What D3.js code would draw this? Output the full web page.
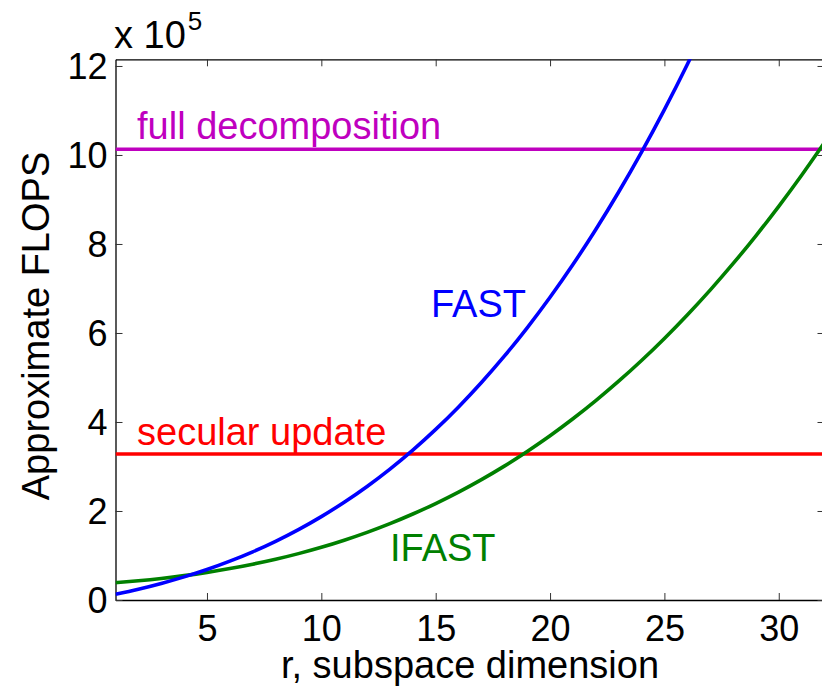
<!DOCTYPE html>
<html><head><meta charset="utf-8">
<script src="https://cdn.jsdelivr.net/npm/d3@7"></script>
<style>
html,body{margin:0;padding:0;background:#fff;overflow:hidden}
text{font-family:"Liberation Sans",Arial,Helvetica,sans-serif}
</style></head>
<body><svg id="chart" width="822" height="687"></svg>
<script>
// ---- data (values in units of 1e5 FLOPS) ----
const rValues = [1,2,3,4,5,6,7,8,9,10,11,12,13,14,15,16,17,18,19,20,21,22,23,24,25,26,27,28,29,30,31,32];
const fastValues = [0.128,0.242,0.372,0.519,0.685,0.873,1.083,1.319,1.582,1.874,2.197,2.552,2.942,3.368,3.833,4.339,4.887,5.478,6.116,6.802,7.538,8.326,9.168,10.065,11.020,12.034,13.110,null,null,null,null,null];
const ifastValues = [0.390,0.433,0.485,0.547,0.620,0.706,0.804,0.915,1.042,1.184,1.344,1.520,1.716,1.932,2.168,2.425,2.705,3.009,3.338,3.691,4.072,4.480,4.916,5.381,5.877,6.405,6.964,7.557,8.184,8.846,9.545,10.280];
const fullDecomposition = 10.13;
const secularUpdate = 3.28;
const xTicks = [5,10,15,20,25,30];
const yTicks = [0,2,4,6,8,10,12];
const xDomain = [1,32];
const yDomain = [0,12.15];

const svg = d3.select("#chart");
const L = 115.5, T = 59.3, B = 600, R = 824.5;
const x = d3.scaleLinear().domain(xDomain).range([L, R]);
const y = d3.scaleLinear().domain(yDomain).range([B, T]);

svg.append("defs").append("clipPath").attr("id","clip")
  .append("rect").attr("x",L).attr("y",T).attr("width",R-L).attr("height",B-T);

const fs = 36, fsLab = 38;
// axes with inward ticks
const tickLen = 7;
const gB = svg.append("g").attr("transform",`translate(0,${B})`)
  .call(d3.axisBottom(x).tickValues(xTicks).tickSizeInner(-tickLen).tickSizeOuter(0).tickPadding(17));
const gT = svg.append("g").attr("transform",`translate(0,${T})`)
  .call(d3.axisTop(x).tickValues(xTicks).tickSizeInner(-tickLen).tickSizeOuter(0).tickFormat(""));
const gL = svg.append("g").attr("transform",`translate(${L},0)`)
  .call(d3.axisLeft(y).tickValues(yTicks).tickSizeInner(-tickLen).tickSizeOuter(0).tickPadding(8));
const gR = svg.append("g").attr("transform",`translate(${R},0)`)
  .call(d3.axisRight(y).tickValues(yTicks).tickSizeInner(-tickLen).tickSizeOuter(0).tickFormat(""));
[gB,gT,gL,gR].forEach(g=>{
  g.select(".domain").attr("stroke","#000").attr("stroke-width",1.3);
  g.selectAll(".tick line").attr("stroke","#333").attr("stroke-width",1);
  g.selectAll(".tick text").attr("font-size",fs).attr("fill","#000")
   .style("font-family",'"Liberation Sans",Arial,sans-serif');
});
gB.selectAll(".tick text").attr("dy","0.66em");
gL.selectAll(".tick text").attr("dy","0.36em");

const plot = svg.append("g").attr("clip-path","url(#clip)");
const line = d3.line().defined(d=>d[1]!==null).x(d=>x(d[0])).y(d=>y(d[1])).curve(d3.curveMonotoneX);

// horizontal reference lines
plot.append("line").attr("x1",x(xDomain[0])).attr("x2",x(xDomain[1]))
  .attr("y1",y(fullDecomposition)).attr("y2",y(fullDecomposition))
  .attr("stroke","#bf00bf").attr("stroke-width",3.6);
plot.append("line").attr("x1",x(xDomain[0])).attr("x2",x(xDomain[1]))
  .attr("y1",y(secularUpdate)).attr("y2",y(secularUpdate))
  .attr("stroke","#ff0000").attr("stroke-width",3.6);

plot.append("path").datum(rValues.map((r,i)=>[r,ifastValues[i]]))
  .attr("d",line).attr("fill","none").attr("stroke","#008000").attr("stroke-width",3.6);
plot.append("path").datum(rValues.map((r,i)=>[r,fastValues[i]]))
  .attr("d",line).attr("fill","none").attr("stroke","#0000ff").attr("stroke-width",3.6);

// annotations
svg.append("text").attr("x",137).attr("y",139).attr("font-size",fsLab).attr("fill","#bf00bf").text("full decomposition");
svg.append("text").attr("x",137).attr("y",445).attr("font-size",fsLab).attr("fill","#ff0000").text("secular update");
svg.append("text").attr("x",431).attr("y",317).attr("font-size",fsLab).attr("fill","#0000ff").text("FAST");
svg.append("text").attr("x",390).attr("y",561).attr("font-size",fsLab).attr("fill","#008000").text("IFAST");

// axis labels
svg.append("text").attr("x",470).attr("y",678).attr("text-anchor","middle")
  .attr("font-size",fsLab).attr("fill","#000").text("r, subspace dimension");
svg.append("text").attr("transform","translate(49,326) rotate(-90)").attr("text-anchor","middle")
  .attr("font-size",fsLab).attr("fill","#000").text("Approximate FLOPS");

// exponent
const ex = svg.append("text").attr("x",114).attr("y",48).attr("font-size",fsLab).attr("fill","#000");
ex.append("tspan").text("x 10");
ex.append("tspan").attr("dx",2).attr("dy",-18).attr("font-size",26).text("5");
</script></body></html>
